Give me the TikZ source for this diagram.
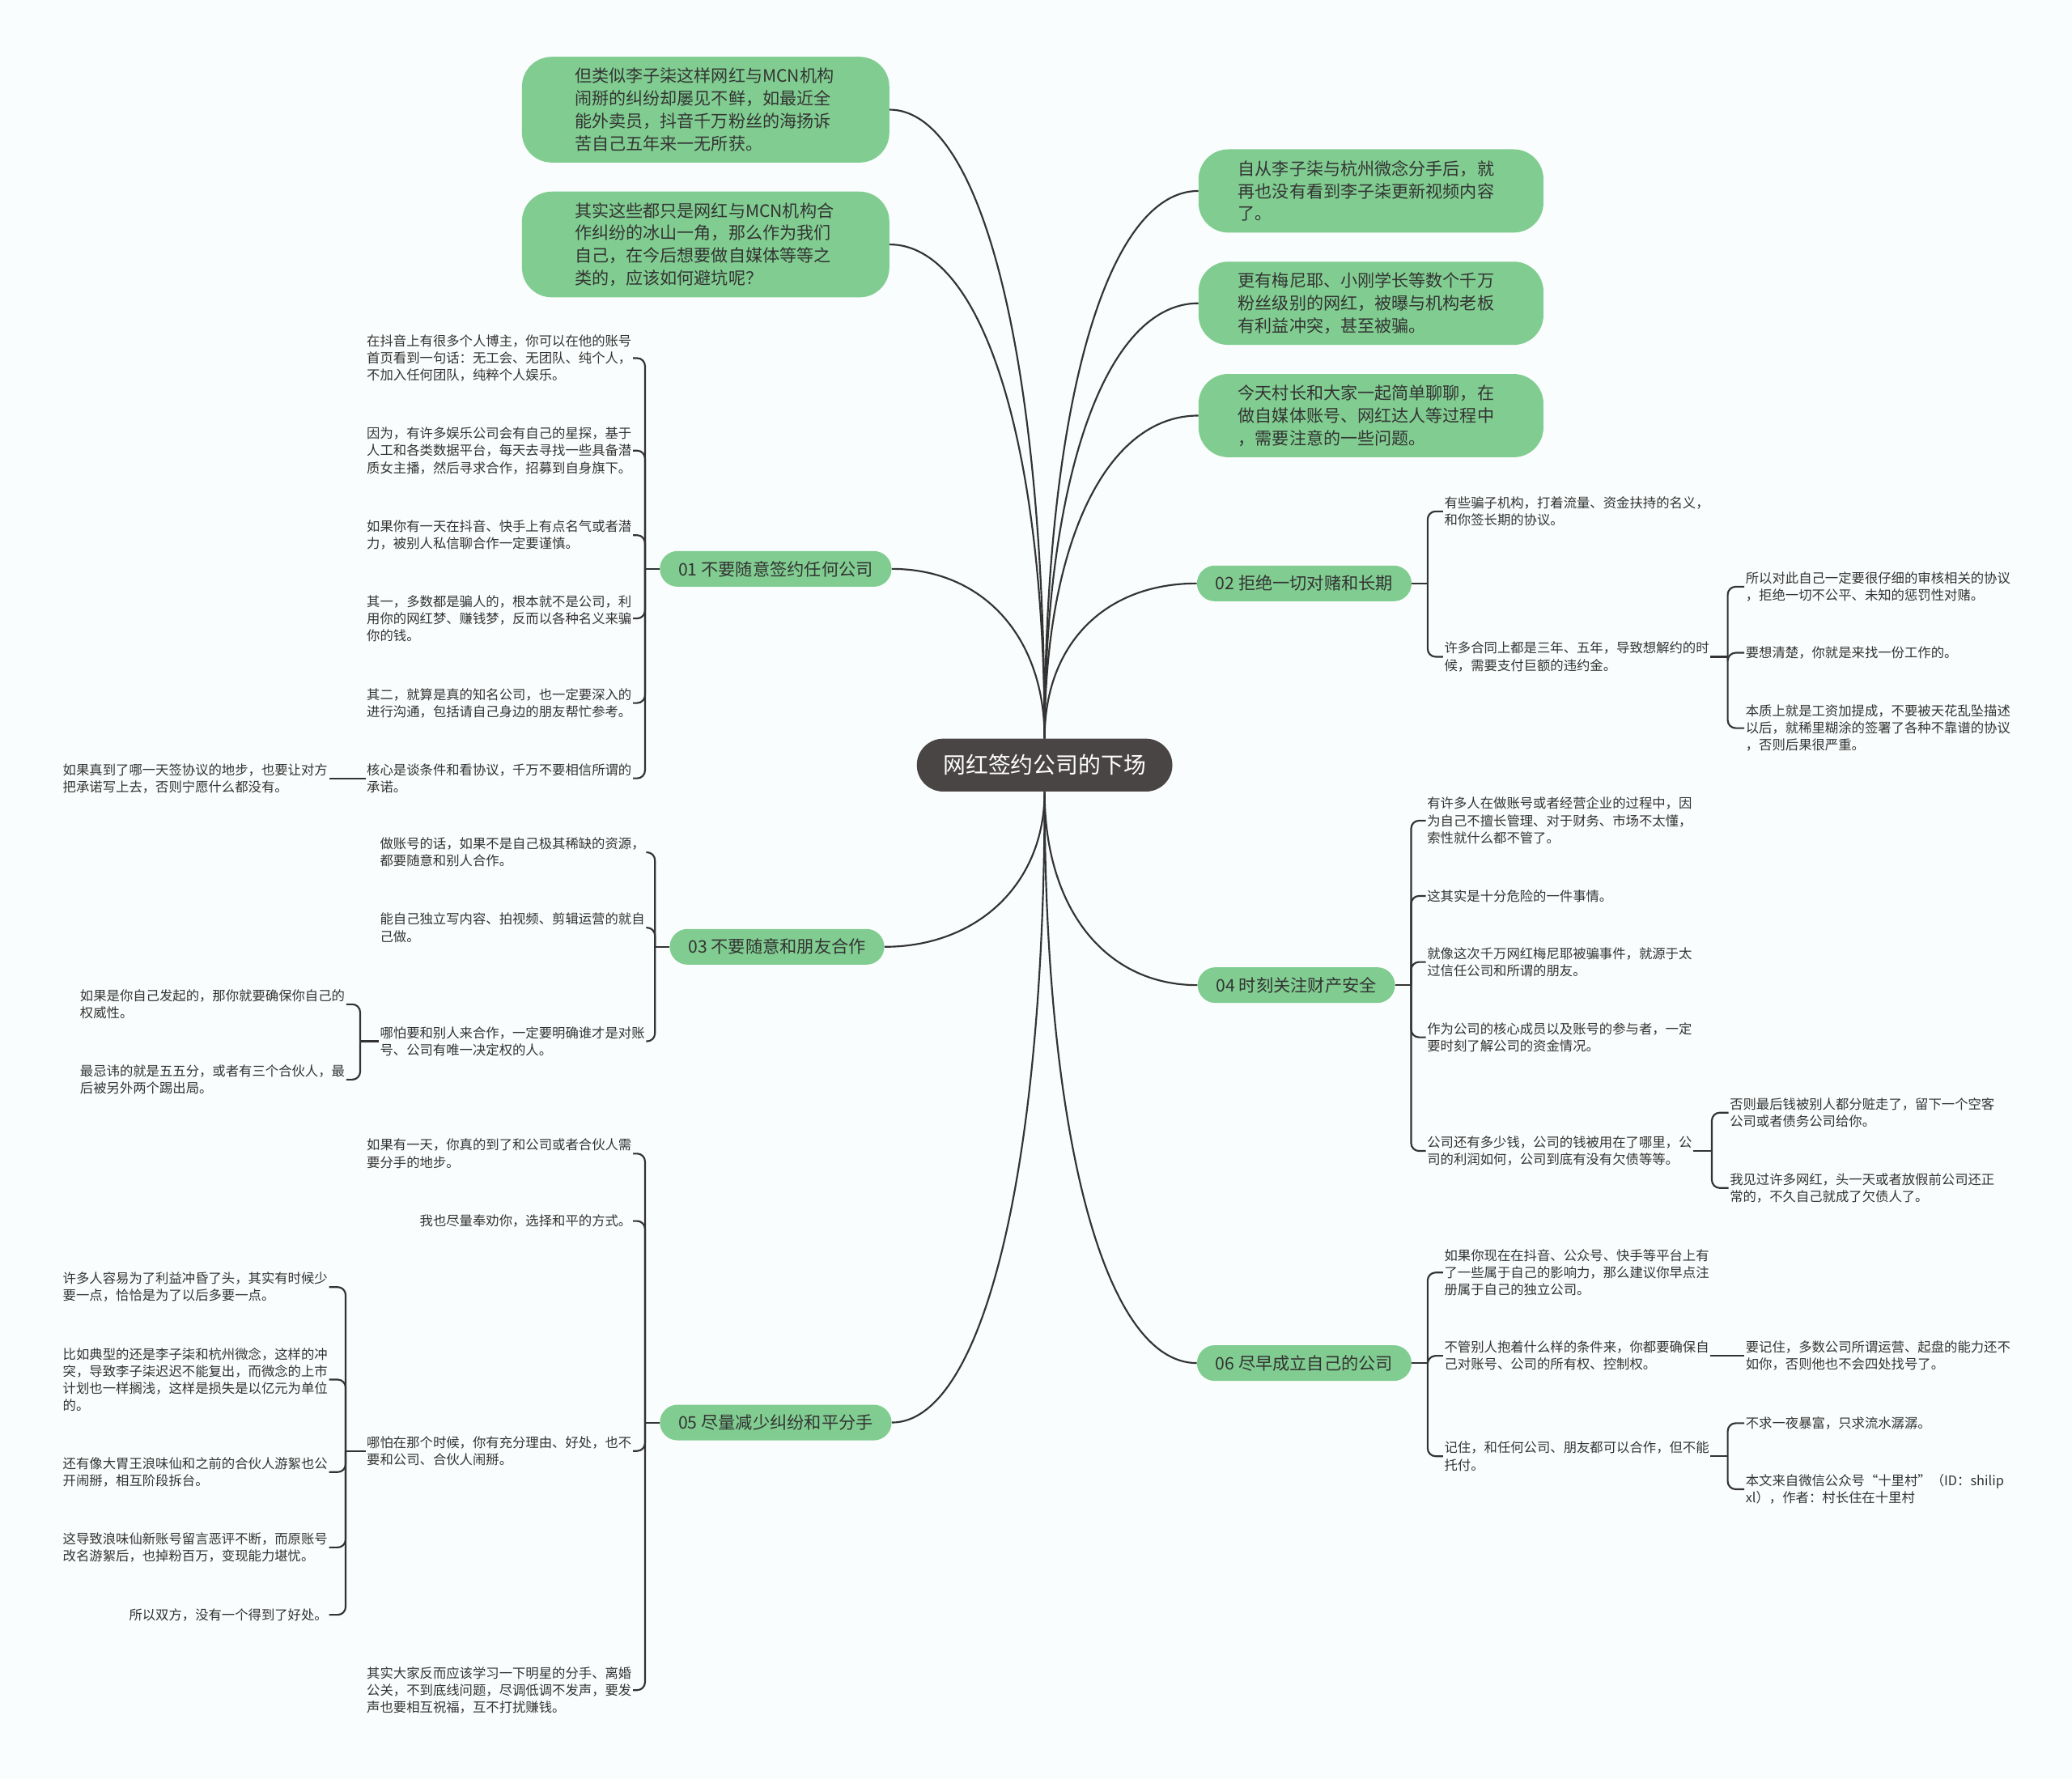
\documentclass[tikz,border=0pt]{standalone}
\usepackage{fontspec}
\setmainfont{Noto Sans CJK SC}
\usetikzlibrary{positioning}
\definecolor{topicgreen}{RGB}{129,205,145}
\definecolor{rootgray}{RGB}{74,69,69}
\definecolor{linegray}{RGB}{51,51,51}
\definecolor{bggray}{RGB}{250,253,253}

\begin{document}
\begin{tikzpicture}[x=0.4mm, y=-0.4mm,
    leaf/.style={inner sep=1pt, align=left, text=linegray,
                 font=\fontsize{11.4pt}{14.8pt}\selectfont},
    topic/.style={fill=topicgreen, rounded corners=5.4mm, minimum height=10.8mm,
                  inner xsep=5.6mm, inner ysep=0pt, text=linegray,
                  font=\fontsize{14.8pt}{19pt}\selectfont},
    bubble/.style={fill=topicgreen, rounded corners=9mm, align=left, text=linegray,
                   inner ysep=0pt, font=\fontsize{14.7pt}{19.35pt}\selectfont},
    link/.style={draw=linegray, line width=1.5pt, rounded corners=2.4mm}]
        \fill[bggray] (0,0) rectangle (1568,1346);
        \useasboundingbox (0,0) rectangle (1568,1346);

        % centre
        \node[fill=rootgray, rounded corners=8mm, minimum height=16mm, inner xsep=8mm,
              text=white, font=\fontsize{19.4pt}{24pt}\selectfont]
            (root) at (790.5,579) {网红签约公司的下场};

        % bubbles
        \node[bubble, text width=79.2mm, inner xsep=16mm, minimum height=32mm]
            (bb1) at (534,83) {但类似李子柒这样网红与MCN机构\\闹掰的纠纷却屡见不鲜，如最近全\\能外卖员，抖音千万粉丝的海扬诉\\苦自己五年来一无所获。};
        \node[bubble, text width=79.2mm, inner xsep=16mm, minimum height=32mm]
            (bb2) at (534,185) {其实这些都只是网红与MCN机构合\\作纠纷的冰山一角，那么作为我们\\自己，在今后想要做自媒体等等之\\类的，应该如何避坑呢？};
        \node[bubble, text width=80.4mm, inner xsep=12mm, minimum height=25.2mm]
            (br1) at (1037.5,144.5) {自从李子柒与杭州微念分手后，就\\再也没有看到李子柒更新视频内容\\了。};
        \node[bubble, text width=80.4mm, inner xsep=12mm, minimum height=25.2mm]
            (br2) at (1037.5,229.5) {更有梅尼耶、小刚学长等数个千万\\粉丝级别的网红，被曝与机构老板\\有利益冲突，甚至被骗。};
        \node[bubble, text width=80.4mm, inner xsep=12mm, minimum height=25.2mm]
            (br3) at (1037.5,314.5) {今天村长和大家一起简单聊聊，在\\做自媒体账号、网红达人等过程中\\，需要注意的一些问题。};

        % topics
        \node[topic] (b01) at (587,430.5)  {01 不要随意签约任何公司};
        \node[topic] (b02) at (987,441.5)  {02 拒绝一切对赌和长期};
        \node[topic] (b03) at (588,716.5)  {03 不要随意和朋友合作};
        \node[topic] (b04) at (981,745.5)  {04 时刻关注财产安全};
        \node[topic] (b05) at (587,1076.5) {05 尽量减少纠纷和平分手};
        \node[topic] (b06) at (987,1031.5) {06 尽早成立自己的公司};

        % 01
        \node[leaf, anchor=east] (l01a) at (479,271) {在抖音上有很多个人博主，你可以在他的账号\\首页看到一句话：无工会、无团队、纯个人，\\不加入任何团队，纯粹个人娱乐。};
        \node[leaf, anchor=east] (l01b) at (479,341) {因为，有许多娱乐公司会有自己的星探，基于\\人工和各类数据平台，每天去寻找一些具备潜\\质女主播，然后寻求合作，招募到自身旗下。};
        \node[leaf, anchor=east] (l01c) at (479,405) {如果你有一天在抖音、快手上有点名气或者潜\\力，被别人私信聊合作一定要谨慎。};
        \node[leaf, anchor=east] (l01d) at (479,468) {其一，多数都是骗人的，根本就不是公司，利\\用你的网红梦、赚钱梦，反而以各种名义来骗\\你的钱。};
        \node[leaf, anchor=east] (l01e) at (479,532) {其二，就算是真的知名公司，也一定要深入的\\进行沟通，包括请自己身边的朋友帮忙参考。};
        \node[leaf, anchor=east] (l01f) at (479,589) {核心是谈条件和看协议，千万不要相信所谓的\\承诺。};
        \node[leaf, anchor=east] (l01g) at (249,589) {如果真到了哪一天签协议的地步，也要让对方\\把承诺写上去，否则宁愿什么都没有。};

        % 02
        \node[leaf, anchor=west] (l02a) at (1092,387) {有些骗子机构，打着流量、资金扶持的名义，\\和你签长期的协议。};
        \node[leaf, anchor=west] (l02b) at (1092,497) {许多合同上都是三年、五年，导致想解约的时\\候，需要支付巨额的违约金。};
        \node[leaf, anchor=west] (l02c) at (1320,444) {所以对此自己一定要很仔细的审核相关的协议\\，拒绝一切不公平、未知的惩罚性对赌。};
        \node[leaf, anchor=west] (l02d) at (1320,494) {要想清楚，你就是来找一份工作的。};
        \node[leaf, anchor=west] (l02e) at (1320,551) {本质上就是工资加提成，不要被天花乱坠描述\\以后，就稀里糊涂的签署了各种不靠谱的协议\\，否则后果很严重。};

        % 03
        \node[leaf, anchor=east] (l03a) at (489,645) {做账号的话，如果不是自己极其稀缺的资源，\\都要随意和别人合作。};
        \node[leaf, anchor=east] (l03b) at (489,702) {能自己独立写内容、拍视频、剪辑运营的就自\\己做。};
        \node[leaf, anchor=east] (l03c) at (489,788) {哪怕要和别人来合作，一定要明确谁才是对账\\号、公司有唯一决定权的人。};
        \node[leaf, anchor=east] (l03d) at (262,760) {如果是你自己发起的，那你就要确保你自己的\\权威性。};
        \node[leaf, anchor=east] (l03e) at (262,817) {最忌讳的就是五五分，或者有三个合伙人，最\\后被另外两个踢出局。};

        % 04
        \node[leaf, anchor=west] (l04a) at (1079,621) {有许多人在做账号或者经营企业的过程中，因\\为自己不擅长管理、对于财务、市场不太懂，\\索性就什么都不管了。};
        \node[leaf, anchor=west] (l04b) at (1079,678) {这其实是十分危险的一件事情。};
        \node[leaf, anchor=west] (l04c) at (1079,728) {就像这次千万网红梅尼耶被骗事件，就源于太\\过信任公司和所谓的朋友。};
        \node[leaf, anchor=west] (l04d) at (1079,785) {作为公司的核心成员以及账号的参与者，一定\\要时刻了解公司的资金情况。};
        \node[leaf, anchor=west] (l04e) at (1079,871) {公司还有多少钱，公司的钱被用在了哪里，公\\司的利润如何，公司到底有没有欠债等等。};
        \node[leaf, anchor=west] (l04f) at (1308,842) {否则最后钱被别人都分赃走了，留下一个空客\\公司或者债务公司给你。};
        \node[leaf, anchor=west] (l04g) at (1308,899) {我见过许多网红，头一天或者放假前公司还正\\常的，不久自己就成了欠债人了。};

        % 05
        \node[leaf, anchor=east] (l05a) at (479,873) {如果有一天，你真的到了和公司或者合伙人需\\要分手的地步。};
        \node[leaf, anchor=east] (l05b) at (479,924) {我也尽量奉劝你，选择和平的方式。};
        \node[leaf, anchor=east] (l05c) at (479,1098) {哪怕在那个时候，你有充分理由、好处，也不\\要和公司、合伙人闹掰。};
        \node[leaf, anchor=east] (l05d) at (249,974) {许多人容易为了利益冲昏了头，其实有时候少\\要一点，恰恰是为了以后多要一点。};
        \node[leaf, anchor=east] (l05e) at (249,1044) {比如典型的还是李子柒和杭州微念，这样的冲\\突，导致李子柒迟迟不能复出，而微念的上市\\计划也一样搁浅，这样是损失是以亿元为单位\\的。};
        \node[leaf, anchor=east] (l05f) at (249,1114) {还有像大胃王浪味仙和之前的合伙人游絮也公\\开闹掰，相互阶段拆台。};
        \node[leaf, anchor=east] (l05g) at (249,1171) {这导致浪味仙新账号留言恶评不断，而原账号\\改名游絮后，也掉粉百万，变现能力堪忧。};
        \node[leaf, anchor=east] (l05h) at (249,1222) {所以双方，没有一个得到了好处。};
        \node[leaf, anchor=east] (l05i) at (479,1279) {其实大家反而应该学习一下明星的分手、离婚\\公关，不到底线问题，尽调低调不发声，要发\\声也要相互祝福，互不打扰赚钱。};

        % 06
        \node[leaf, anchor=west] (l06a) at (1092,963) {如果你现在在抖音、公众号、快手等平台上有\\了一些属于自己的影响力，那么建议你早点注\\册属于自己的独立公司。};
        \node[leaf, anchor=west] (l06b) at (1092,1026) {不管别人抱着什么样的条件来，你都要确保自\\己对账号、公司的所有权、控制权。};
        \node[leaf, anchor=west] (l06c) at (1320,1026) {要记住，多数公司所谓运营、起盘的能力还不\\如你，否则他也不会四处找号了。};
        \node[leaf, anchor=west] (l06d) at (1092,1102) {记住，和任何公司、朋友都可以合作，但不能\\托付。};
        \node[leaf, anchor=west] (l06e) at (1320,1077) {不求一夜暴富，只求流水潺潺。};
        \node[leaf, anchor=west] (l06f) at (1320,1127) {本文来自微信公众号“十里村”（ID：shilip\\xl），作者：村长住在十里村};

        % main curves
        \draw[link] (root.north) .. controls +(0,-286) and +(70,0) .. (bb1.east);
        \draw[link] (root.north) .. controls +(0,-224) and +(70,0) .. (bb2.east);
        \draw[link] (root.north) .. controls +(0,-249) and +(-70,0) .. (br1.west);
        \draw[link] (root.north) .. controls +(0,-198) and +(-70,0) .. (br2.west);
        \draw[link] (root.north) .. controls +(0,-147) and +(-70,0) .. (br3.west);
        \draw[link] (root.north) .. controls +(0,-77) and +(69,0) .. (b01.east);
        \draw[link] (root.north) .. controls +(0,-71) and +(-70,0) .. (b02.west);
        \draw[link] (root.south) .. controls +(0,70) and +(70,0) .. (b03.east);
        \draw[link] (root.south) .. controls +(0,88) and +(-70,0) .. (b04.west);
        \draw[link] (root.south) .. controls +(0,286) and +(69,0) .. (b05.east);
        \draw[link] (root.south) .. controls +(0,260) and +(-70,0) .. (b06.west);

        % spines
        \draw[link] (b01.west) -- ++(-11,0) coordinate (s01);
        \foreach \n in {l01a,l01b,l01c,l01d,l01e,l01f}
            \draw[link] (s01) |- (\n.east);
        \draw[link] (l01f.west) -- (l01g.east);

        \draw[link] (b02.east) -- ++(12,0) coordinate (s02);
        \foreach \n in {l02a,l02b}
            \draw[link] (s02) |- (\n.west);
        \draw[link] (l02b.east) -- ++(13,0) coordinate (s02b);
        \foreach \n in {l02c,l02d,l02e}
            \draw[link] (s02b) |- (\n.west);

        \draw[link] (b03.west) -- ++(-11,0) coordinate (s03);
        \foreach \n in {l03a,l03b,l03c}
            \draw[link] (s03) |- (\n.east);
        \draw[link] (l03c.west) -- ++(-14,0) coordinate (s03c);
        \foreach \n in {l03d,l03e}
            \draw[link] (s03c) |- (\n.east);

        \draw[link] (b04.east) -- ++(12,0) coordinate (s04);
        \foreach \n in {l04a,l04b,l04c,l04d,l04e}
            \draw[link] (s04) |- (\n.west);
        \draw[link] (l04e.east) -- ++(14,0) coordinate (s04e);
        \foreach \n in {l04f,l04g}
            \draw[link] (s04e) |- (\n.west);

        \draw[link] (b05.west) -- ++(-11,0) coordinate (s05);
        \foreach \n in {l05a,l05b,l05c,l05i}
            \draw[link] (s05) |- (\n.east);
        \draw[link] (l05c.west) -- ++(-15,0) coordinate (s05c);
        \foreach \n in {l05d,l05e,l05f,l05g,l05h}
            \draw[link] (s05c) |- (\n.east);

        \draw[link] (b06.east) -- ++(12,0) coordinate (s06);
        \foreach \n in {l06a,l06b,l06d}
            \draw[link] (s06) |- (\n.west);
        \draw[link] (l06b.east) -- (l06c.west);
        \draw[link] (l06d.east) -- ++(13,0) coordinate (s06d);
        \foreach \n in {l06e,l06f}
            \draw[link] (s06d) |- (\n.west);
    \end{tikzpicture}
\end{document}
